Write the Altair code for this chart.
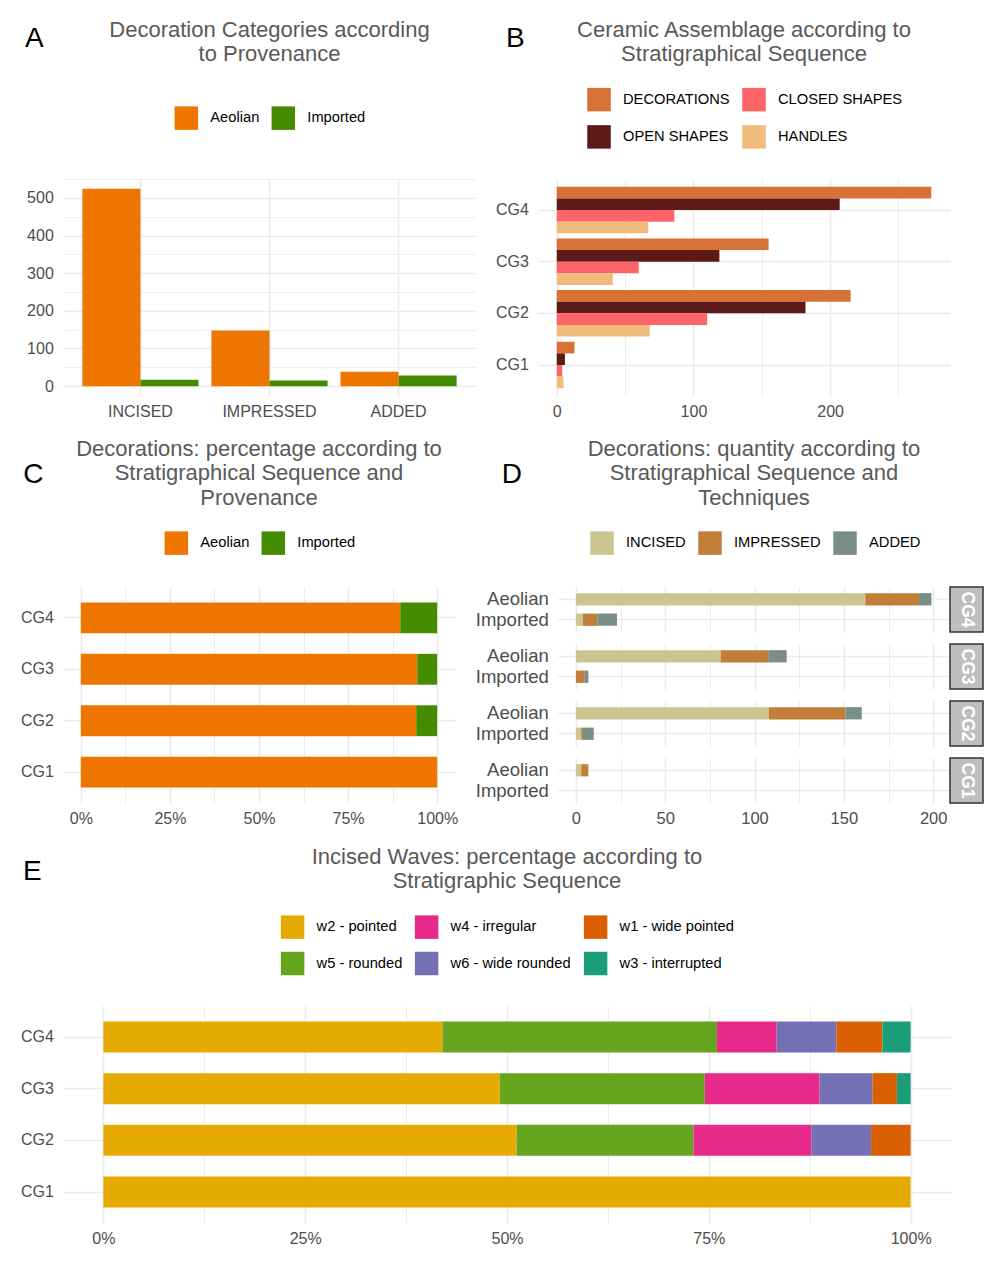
import altair as alt
import pandas as pd

FONT = "Liberation Sans"
TITLE_COLOR = "#595959"
AXIS_COLOR = "#4D4D4D"
GRID_COLOR = "#EBEBEB"

# ---------------- Panel A data ----------------
techniques = ["INCISED", "IMPRESSED", "ADDED"]
a_aeolian = [524, 148, 38]
a_imported = [17, 15, 28]
provenances = ["Aeolian", "Imported"]
prov_colors = ["#EE7600", "#458B00"]
title_a = "Decoration Categories according\nto Provenance"

# ---------------- Panel B data ----------------
groups = ["CG4", "CG3", "CG2", "CG1"]
b_categories = ["DECORATIONS", "OPEN SHAPES", "CLOSED SHAPES", "HANDLES"]
b_legend_order = ["DECORATIONS", "CLOSED SHAPES", "OPEN SHAPES", "HANDLES"]
b_legend_colors = ["#D67236", "#FD6467", "#5B1A18", "#F1BB7B"]
b_decorations = [274, 155, 215, 13]
b_open = [207, 119, 182, 6]
b_closed = [86, 60, 110, 4]
b_handles = [67, 41, 68, 5]
title_b = "Ceramic Assemblage according to\nStratigraphical Sequence"

# ---------------- Panel C / D data ----------------
d_colors = ["#CCC591", "#C27D38", "#798E87"]
d_aeolian_incised = [162, 81, 108, 3]
d_aeolian_impressed = [30, 27, 43, 4]
d_aeolian_added = [7, 10, 9, 0]
d_imported_incised = [4, 0, 3, 0]
d_imported_impressed = [8, 5, 1, 0]
d_imported_added = [11, 2, 6, 0]
title_c = "Decorations: percentage according to\nStratigraphical Sequence and\nProvenance"
title_d = "Decorations: quantity according to\nStratigraphical Sequence and\nTechniques"

# ---------------- Panel E data ----------------
waves = ["w2 - pointed", "w5 - rounded", "w4 - irregular",
         "w6 - wide rounded", "w1 - wide pointed", "w3 - interrupted"]
wave_colors = ["#E6AB02", "#66A61E", "#E7298A", "#7570B3", "#D95F02", "#1B9E77"]
e_w2 = [42.0, 49.1, 51.2, 100.0]
e_w5 = [34.0, 25.4, 21.9, 0.0]
e_w4 = [7.4, 14.2, 14.6, 0.0]
e_w6 = [7.4, 6.6, 7.4, 0.0]
e_w1 = [5.7, 3.0, 4.9, 0.0]
e_w3 = [3.5, 1.7, 0.0, 0.0]
title_e = "Incised Waves: percentage according to\nStratigraphic Sequence"

# ---------------- tables ----------------
dfA = pd.DataFrame({
    "technique": techniques * 2,
    "provenance": ["Aeolian"] * 3 + ["Imported"] * 3,
    "count": a_aeolian + a_imported,
})

b_series = [b_decorations, b_open, b_closed, b_handles]
dfB = pd.DataFrame([
    {"group": g, "category": c, "value": s[i]}
    for c, s in zip(b_categories, b_series)
    for i, g in enumerate(groups)
])

d_series = {
    ("Aeolian", "INCISED"): d_aeolian_incised,
    ("Aeolian", "IMPRESSED"): d_aeolian_impressed,
    ("Aeolian", "ADDED"): d_aeolian_added,
    ("Imported", "INCISED"): d_imported_incised,
    ("Imported", "IMPRESSED"): d_imported_impressed,
    ("Imported", "ADDED"): d_imported_added,
}
dfD = pd.DataFrame([
    {"group": g, "provenance": p, "technique": t, "count": vals[i],
     "tech_rank": techniques.index(t)}
    for (p, t), vals in d_series.items()
    for i, g in enumerate(groups)
])

e_series = [e_w2, e_w5, e_w4, e_w6, e_w1, e_w3]
dfE = pd.DataFrame([
    {"group": g, "wave": w, "pct": s[i], "rank": k}
    for k, (w, s) in enumerate(zip(waves, e_series))
    for i, g in enumerate(groups)
])

# ---------------- helpers ----------------
PCT_VALUES = [0, 0.125, 0.25, 0.375, 0.5, 0.625, 0.75, 0.875, 1.0]
PCT_TEST = "round(datum.value*1000) % 250 == 0"


def quant_axis(values, major_test, fmt=None, label_padding=9.0, font_size=16):
    kw = dict(
        values=values,
        grid=True,
        labelExpr=f"({major_test}) ? datum.label : ''",
        gridWidth={"condition": {"test": f"!({major_test})", "value": 0.9}, "value": 1.6},
        labelPadding=label_padding,
        labelFontSize=font_size,
        title=None,
    )
    if fmt:
        kw["format"] = fmt
    return alt.Axis(**kw)


def band_axis(label_padding=9.7, font_size=16):
    return alt.Axis(grid=True, bandPosition=0.5, gridWidth=1.6, labelAngle=0,
                    labelPadding=label_padding, labelFontSize=font_size, title=None)


def make_legend(x, y, columns, row_padding=13.0):
    return alt.Legend(
        orient="none", legendX=x, legendY=y, direction="horizontal",
        columns=columns, title=None, symbolType="square", symbolSize=552,
        symbolStrokeWidth=0, labelFontSize=14.7, labelFont=FONT,
        labelColor="black", labelOffset=12, columnPadding=12,
        rowPadding=row_padding, padding=0,
    )


def letter(txt, x, y):
    return alt.Chart(pd.DataFrame({"t": [txt]})).mark_text(
        align="left", baseline="alphabetic", fontSize=28, font=FONT, color="black"
    ).encode(text="t:N", x=alt.value(x), y=alt.value(y))


def title_text(txt, x, y):
    return alt.Chart(pd.DataFrame({"t": [txt]})).mark_text(
        align="center", baseline="alphabetic", fontSize=22, font=FONT,
        color=TITLE_COLOR, lineBreak="\n", lineHeight=24.4
    ).encode(text="t:N", x=alt.value(x), y=alt.value(y))


def frame(x1, x2, y1, y2):
    # invisible layout cell that fixes each panel's extent on the page
    return alt.Chart(pd.DataFrame({"f": [0]})).mark_rect(
        fillOpacity=0, strokeOpacity=0
    ).encode(x=alt.value(x1), x2=alt.value(x2), y=alt.value(y1), y2=alt.value(y2))


# ---------------- Panel A ----------------
W_A, H_A = 413, 217
barsA = alt.Chart(dfA).mark_bar().encode(
    x=alt.X("technique:N", sort=techniques,
            scale=alt.Scale(paddingInner=0.1, paddingOuter=0.15),
            axis=band_axis(label_padding=7)),
    xOffset=alt.XOffset("provenance:N", sort=provenances,
                        scale=alt.Scale(paddingInner=0, paddingOuter=0)),
    y=alt.Y("count:Q", stack=None,
            scale=alt.Scale(domain=[-26.2, 550.2], nice=False, zero=False),
            axis=quant_axis(list(range(0, 551, 50)), "datum.value % 100 == 0",
                            label_padding=9.7)),
    color=alt.Color("provenance:N",
                    scale=alt.Scale(domain=provenances, range=prov_colors),
                    legend=make_legend(111.3, -73, 2)),
)
panelA = alt.layer(
    frame(-54, 422, -170, 249),
    barsA, letter("A", -38, -132.3), title_text(title_a, W_A / 2, -142.3)
).properties(width=W_A, height=H_A)

# ---------------- Panel B ----------------
W_B, H_B = 412, 217
barsB = alt.Chart(dfB).mark_bar().encode(
    y=alt.Y("group:N", sort=groups,
            scale=alt.Scale(paddingInner=0.1, paddingOuter=0.15),
            axis=band_axis()),
    yOffset=alt.YOffset("category:N", sort=b_categories,
                        scale=alt.Scale(paddingInner=0, paddingOuter=0)),
    x=alt.X("value:Q", stack=None,
            scale=alt.Scale(domain=[-13.7, 287.7], nice=False, zero=False),
            axis=quant_axis(list(range(0, 251, 50)), "datum.value % 100 == 0",
                            label_padding=7)),
    color=alt.Color("category:N",
                    scale=alt.Scale(domain=b_legend_order, range=b_legend_colors),
                    legend=make_legend(49, -91.5, 2, row_padding=13.4)),
)
panelB = alt.layer(
    frame(-53, 454, -170, 249),
    barsB, letter("B", -32, -132.3), title_text(title_b, W_B / 2, -142.3)
).properties(width=W_B, height=H_B)

# ---------------- Panel C ----------------
W_C, H_C = 392, 216
barsC = alt.Chart(dfD).mark_bar().encode(
    x=alt.X("sum(count):Q", stack="normalize",
            scale=alt.Scale(domain=[-0.05, 1.05], nice=False, zero=False),
            axis=quant_axis(PCT_VALUES, PCT_TEST, fmt=".0%", label_padding=7)),
    y=alt.Y("group:N", sort=groups,
            scale=alt.Scale(paddingInner=0.4, paddingOuter=0.3),
            axis=band_axis()),
    color=alt.Color("provenance:N",
                    scale=alt.Scale(domain=provenances, range=prov_colors),
                    legend=make_legend(101.3, -56, 2)),
    order=alt.Order("provenance:N", sort="ascending"),
)
panelC = alt.layer(
    frame(-55, 403, -159, 251),
    barsC, letter("C", -39.7, -103.7), title_text(title_c, W_C / 2, -131)
).properties(width=W_C, height=H_C)

# ---------------- Panel D (faceted) ----------------
W_D, H_D = 392, 45
ONE_PER_CELL = "datum.provenance == 'Aeolian' && datum.technique == 'INCISED'"
TOP_CELL = ONE_PER_CELL + " && datum.group == 'CG4'"

barsD = alt.Chart().mark_bar().encode(
    x=alt.X("count:Q", stack="zero",
            scale=alt.Scale(domain=[-10, 209.4], nice=False, zero=False),
            axis=quant_axis(list(range(0, 201, 25)), "datum.value % 50 == 0",
                            label_padding=7, font_size=16.5)),
    y=alt.Y("provenance:N", sort=provenances,
            scale=alt.Scale(paddingInner=0.4, paddingOuter=0.3),
            axis=band_axis(font_size=18.5)),
    color=alt.Color("technique:N",
                    scale=alt.Scale(domain=techniques, range=d_colors),
                    legend=make_legend(32, -56, 3)),
    order=alt.Order("tech_rank:Q"),
)
frameD = alt.Chart().mark_rect(fillOpacity=0, strokeOpacity=0).encode(
    x=alt.value(-92), x2=alt.value(434), y=alt.value(-159), y2=alt.value(251)
).transform_filter(TOP_CELL)
stripD = alt.Chart().mark_rect(
    fill="#BEBEBE", stroke="#333333", strokeWidth=1.5
).encode(
    x=alt.value(W_D), x2=alt.value(W_D + 33), y=alt.value(0), y2=alt.value(H_D)
).transform_filter(ONE_PER_CELL)
stripTextD = alt.Chart().mark_text(
    angle=90, fontSize=17.5, fontWeight="bold", color="white", font=FONT,
    align="center", baseline="middle"
).encode(
    text="group:N", x=alt.value(W_D + 16.5), y=alt.value(H_D / 2)
).transform_filter(ONE_PER_CELL)
letterD = alt.Chart().mark_text(
    align="left", baseline="alphabetic", fontSize=28, font=FONT, color="black"
).encode(text=alt.value("D"), x=alt.value(-56.3), y=alt.value(-103.7)).transform_filter(TOP_CELL)
titleD = alt.Chart().mark_text(
    align="center", baseline="alphabetic", fontSize=22, font=FONT,
    color=TITLE_COLOR, lineBreak="\n", lineHeight=24.4
).encode(text=alt.value(title_d), x=alt.value(W_D / 2), y=alt.value(-131)).transform_filter(TOP_CELL)

panelD = alt.layer(
    frameD, barsD, stripD, stripTextD, letterD, titleD, data=dfD
).properties(width=W_D, height=H_D).facet(
    row=alt.Row("group:N", sort=groups, header=alt.Header(labels=False, title=None)),
    spacing=12, bounds="flush",
)

# ---------------- Panel E ----------------
W_E, H_E = 888, 217
wave_legend_order = [waves[0], waves[2], waves[4], waves[1], waves[3], waves[5]]
wave_legend_colors = [wave_colors[0], wave_colors[2], wave_colors[4],
                      wave_colors[1], wave_colors[3], wave_colors[5]]
barsE = alt.Chart(dfE).mark_bar().encode(
    x=alt.X("pct:Q", stack="normalize",
            scale=alt.Scale(domain=[-0.05, 1.05], nice=False, zero=False),
            axis=quant_axis(PCT_VALUES, PCT_TEST, fmt=".0%", label_padding=7)),
    y=alt.Y("group:N", sort=groups,
            scale=alt.Scale(paddingInner=0.4, paddingOuter=0.3),
            axis=band_axis()),
    color=alt.Color("wave:N",
                    scale=alt.Scale(domain=wave_legend_order, range=wave_legend_colors),
                    legend=make_legend(217.6, -91, 3, row_padding=12.5)),
    order=alt.Order("rank:Q"),
)
panelE = alt.layer(
    frame(-55, 929, -168, 249),
    barsE, letter("E", -40, -126), title_text(title_e, W_E / 2, -142.5)
).properties(width=W_E, height=H_E)

# ---------------- layout ----------------
row1 = alt.concat(panelA, panelB, columns=2, spacing=0, align="none",
                  bounds="full").resolve_scale(color="independent")
row2 = alt.concat(panelC, panelD, columns=2, spacing=0, align="none",
                  bounds="full").resolve_scale(color="independent")
chart = alt.concat(
    row1, row2, panelE, columns=1, spacing=0, align="none", bounds="full",
).resolve_scale(
    color="independent"
).properties(
    padding={"left": 0, "top": 1, "right": 0, "bottom": 0}
).configure_view(
    strokeWidth=0
).configure_axis(
    domain=False, ticks=False, tickSize=0, gridColor=GRID_COLOR,
    labelFont=FONT, labelColor=AXIS_COLOR
)

chart.save("out.html", embed_options={"renderer": "svg", "actions": False})
